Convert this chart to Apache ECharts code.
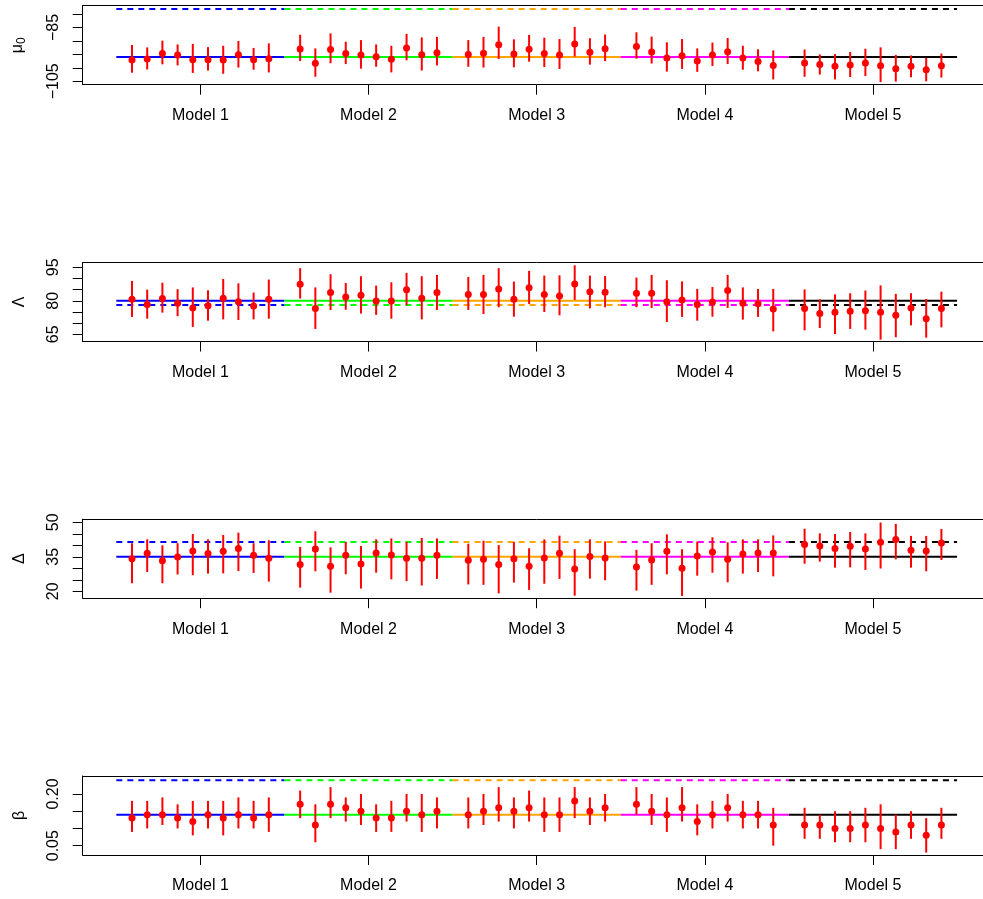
<!DOCTYPE html>
<html><head><meta charset="utf-8">
<script src="https://cdn.jsdelivr.net/npm/echarts@6/dist/echarts.min.js"></script>
<style>html,body{margin:0;padding:0;background:#fff;overflow:hidden;width:983px;height:899px}#c{width:1000px;height:899px}</style>
</head><body><div id="c"></div>
<script>
// ---------- data ----------
const modelLabels = ['Model 1', 'Model 2', 'Model 3', 'Model 4', 'Model 5'];
const modelColors = ['#0000ff', '#00ff00', '#ffa500', '#ff00ff', '#000000'];
const perModel = 10;

// mu0
const mu0Est = [-97.1,-96.7,-94.7,-95.2,-97.0,-97.0,-97.1,-95.1,-97.0,-96.6,
  -93.0,-98.3,-93.2,-94.7,-95.2,-95.9,-96.8,-92.6,-95.1,-94.4,
  -95.0,-94.6,-91.4,-94.9,-93.1,-94.7,-95.2,-91.1,-94.2,-92.9,
  -92.1,-94.1,-96.3,-95.5,-97.5,-95.2,-94.0,-96.3,-97.6,-99.1,
  -98.2,-98.8,-99.4,-98.9,-98.2,-99.2,-100.3,-99.4,-100.7,-99.2];
const mu0Lo = [-101.8,-100.6,-98.7,-99.1,-101.9,-101.0,-102.2,-99.9,-100.7,-101.7,
  -97.5,-103.3,-98.3,-98.6,-100.3,-99.6,-101.7,-97.2,-101.0,-99.1,
  -99.6,-99.9,-96.7,-99.8,-97.7,-99.7,-100.4,-95.8,-98.8,-97.5,
  -96.6,-98.4,-101.4,-100.4,-101.5,-99.3,-98.6,-100.7,-101.3,-104.3,
  -103.3,-102.5,-104.3,-103.4,-103.0,-105.3,-105.1,-103.5,-105.0,-103.6];
const mu0Hi = [-91.5,-92.4,-89.9,-91.3,-91.1,-92.3,-91.8,-90.0,-92.6,-90.9,
  -87.7,-92.8,-87.2,-90.3,-89.7,-91.3,-91.8,-87.4,-88.7,-88.5,
  -89.7,-88.5,-84.7,-89.4,-87.8,-88.8,-89.3,-84.8,-89.0,-87.6,
  -86.8,-88.4,-90.5,-89.3,-92.8,-90.6,-88.9,-91.8,-93.1,-93.5,
  -93.2,-95.0,-94.9,-94.1,-92.9,-92.4,-95.2,-95.4,-96.3,-94.7];
const mu0True = [-96, -96, -96, -96, -96];
const mu0Dash = [-78.1, -78.1, -78.1, -78.1, -78.1];

// Lambda
const lamEst = [80.7,78.4,81.0,78.9,76.8,77.8,81.1,79.6,77.7,80.7,
  87.4,76.5,83.7,81.7,82.5,79.9,79.9,85.0,81.1,83.7,
  82.8,82.8,85.3,80.7,85.9,82.8,82.2,87.5,84.0,83.8,
  83.4,83.4,79.6,80.4,78.3,79.5,84.6,78.9,78.7,76.3,
  76.6,74.3,74.9,75.3,75.5,74.9,73.5,76.8,72.0,76.5];
const lamLo = [72.8,72.0,74.7,73.1,68.3,71.1,71.7,71.4,71.7,72.0,
  81.0,67.4,75.9,76.0,74.3,73.7,72.0,78.0,71.7,75.9,
  75.9,74.1,77.1,72.9,78.6,75.0,73.5,80.4,76.6,77.1,
  77.1,76.8,70.5,72.8,71.1,72.9,76.8,71.6,72.8,66.3,
  66.8,67.8,65.1,67.4,67.1,62.6,63.7,69.0,63.5,68.1];
const lamHi = [88.9,85.0,88.1,85.2,86.0,84.7,89.8,87.8,83.7,89.5,
  94.6,86.0,91.9,88.0,91.0,86.8,88.3,92.5,91.0,91.6,
  90.7,91.6,94.6,88.6,93.4,91.3,91.4,95.9,91.3,91.1,
  90.4,91.6,89.2,88.7,85.3,86.2,91.6,86.0,85.3,85.3,
  85.1,80.7,82.9,83.4,84.6,86.9,83.1,83.4,80.8,84.1];
const lamTrue = [80, 80, 80, 80, 80];
const lamDash = [78.1, 78.1, 78.1, 78.1, 78.1];

// Delta
const delEst = [34.1,36.5,33.3,34.9,37.5,36.4,37.4,38.6,35.7,34.4,
  31.7,38.4,30.9,35.7,31.9,36.7,35.8,34.4,34.4,35.7,
  33.5,33.9,31.6,34.1,30.9,34.5,36.5,29.7,35.1,34.5,
  30.6,33.6,37.4,30.0,35.4,37.1,33.9,36.2,36.7,36.7,
  40.4,39.7,38.6,39.6,38.4,41.3,42.5,37.8,37.5,41.0];
const delLo = [23.5,28.4,23.5,27.3,27.0,27.7,27.8,28.8,28.0,24.2,
  21.6,28.7,19.4,27.4,21.2,28.1,25.2,24.4,22.5,25.4,
  23.0,22.8,19.1,23.8,20.6,23.3,25.4,18.1,25.5,24.8,
  20.3,22.8,27.4,18.0,26.8,28.1,23.9,27.7,28.4,26.5,
  32.0,32.9,30.3,30.4,29.3,29.9,33.9,30.3,28.7,33.6];
const delHi = [40.9,42.6,40.0,40.9,44.9,42.6,44.5,45.5,40.9,42.2,
  39.3,46.1,39.1,41.5,39.7,42.6,43.0,41.5,43.2,43.0,
  40.7,42.0,40.1,41.5,38.7,42.6,44.2,38.3,42.6,41.7,
  38.0,40.9,44.8,38.3,41.6,43.5,41.3,42.6,42.6,44.3,
  47.2,45.2,44.9,45.8,45.2,49.9,49.3,44.1,44.1,47.1];
const delTrue = [35, 35, 35, 35, 35];
const delDash = [41.4, 41.4, 41.4, 41.4, 41.4];

// beta
const betEst = [0.13,0.14,0.14,0.13,0.12,0.14,0.13,0.14,0.13,0.14,
  0.17,0.11,0.17,0.16,0.15,0.13,0.13,0.15,0.14,0.15,
  0.14,0.15,0.16,0.15,0.16,0.14,0.14,0.18,0.15,0.16,
  0.17,0.15,0.14,0.16,0.12,0.14,0.16,0.14,0.14,0.11,
  0.11,0.11,0.10,0.10,0.11,0.10,0.09,0.11,0.08,0.11];
const betLo = [0.09,0.10,0.11,0.10,0.08,0.10,0.08,0.10,0.10,0.09,
  0.13,0.06,0.13,0.12,0.11,0.09,0.09,0.12,0.09,0.10,
  0.10,0.11,0.12,0.10,0.12,0.09,0.09,0.13,0.11,0.12,
  0.14,0.11,0.09,0.12,0.08,0.10,0.12,0.10,0.10,0.05,
  0.07,0.07,0.06,0.06,0.06,0.04,0.04,0.07,0.03,0.07];
const betHi = [0.18,0.18,0.19,0.17,0.18,0.18,0.18,0.19,0.18,0.19,
  0.21,0.17,0.22,0.19,0.20,0.17,0.18,0.20,0.20,0.19,
  0.19,0.20,0.22,0.19,0.21,0.19,0.19,0.22,0.19,0.20,
  0.22,0.20,0.19,0.22,0.17,0.18,0.20,0.18,0.18,0.16,
  0.16,0.14,0.15,0.15,0.16,0.17,0.14,0.15,0.13,0.16];
const betTrue = [0.14, 0.14, 0.14, 0.14, 0.14];
const betDash = [0.24, 0.24, 0.24, 0.24, 0.24];

const yTicks = [
  [-105, -100, -95, -90, -85, -80],
  [65, 70, 75, 80, 85, 90, 95],
  [20, 25, 30, 35, 40, 45, 50],
  [0.05, 0.10, 0.15, 0.20]
];
const yLabels = [[-105, -85], [65, 80, 95], [20, 35, 50], [0.05, 0.20]];
const yNames = ['{m|μ}{s|0}', 'Λ', 'Δ', 'β'];

// ---------- layout ----------
const panelTops = [5.7, 262.5, 519.2, 776];
const panelH = 79;
const yRanges = [[-106.26, -76.92], [61.78, 97.15], [17.0, 51.35], [0.023, 0.2522]];
const FONT = '"Liberation Sans", Arial, Helvetica, sans-serif';

const panelData = [
  [mu0Est, mu0Lo, mu0Hi, mu0True, mu0Dash],
  [lamEst, lamLo, lamHi, lamTrue, lamDash],
  [delEst, delLo, delHi, delTrue, delDash],
  [betEst, betLo, betHi, betTrue, betDash]
];

const xPos = i => {
  const m = Math.floor(i / perModel) + 1;
  const j = i % perModel;
  return m + (j - (perModel - 1) / 2) * 0.0904;
};

const grids = [], xAxes = [], yAxes = [], series = [];
panelData.forEach((pd, p) => {
  const [est, lo, hi, tru, dash] = pd;
  grids.push({left: 82.7, width: 908, top: panelTops[p], height: panelH, show: false});
  xAxes.push({type: 'value', gridIndex: p, min: 0.3, max: 5.7, position: 'bottom',
    splitLine: {show: false},
    axisLine: {show: true, lineStyle: {color: '#000', width: 1}},
    axisTick: {show: true, length: 10, lineStyle: {color: '#000', width: 1}, customValues: [1, 2, 3, 4, 5]},
    axisLabel: {show: true, customValues: [1, 2, 3, 4, 5], margin: 23,
      formatter: v => modelLabels[Math.round(v) - 1] || '',
      color: '#000', fontSize: 16, fontFamily: FONT}
  });
  // top edge of the plot box
  xAxes.push({type: 'value', gridIndex: p, min: 0.3, max: 5.7, position: 'top',
    splitLine: {show: false}, axisTick: {show: false}, axisLabel: {show: false},
    axisLine: {show: true, lineStyle: {color: '#000', width: 1}}
  });
  const yl = yLabels[p];
  yAxes.push({type: 'value', gridIndex: p, min: yRanges[p][0], max: yRanges[p][1],
    splitLine: {show: false},
    axisLine: {show: true, lineStyle: {color: '#000', width: 1}},
    axisTick: {show: true, length: 10, lineStyle: {color: '#000', width: 1}, customValues: yTicks[p]},
    axisLabel: {show: true, customValues: yl, rotate: 90, margin: 21,
      formatter: v => (p === 3 ? v.toFixed(2) : String(v)).replace('-', '\u2212'),
      color: '#000', fontSize: 16, fontFamily: FONT},
    name: yNames[p], nameLocation: 'middle', nameRotate: 90, nameGap: 55,
    nameTextStyle: {color: '#000', fontSize: 16, fontFamily: FONT,
      rich: {m: {fontSize: 16, fontFamily: FONT, color: '#000'},
             s: {fontSize: 12, fontFamily: FONT, color: '#000', verticalAlign: 'bottom', padding: [8, 0, 0, 0]}}}
  });
  const xi = 2 * p;
  // model reference lines
  for (let m = 0; m < 5; m++) {
    series.push({type: 'line', xAxisIndex: xi, yAxisIndex: p, silent: true, symbol: 'none',
      data: [[m + 0.5, tru[m]], [m + 1.5, tru[m]]],
      lineStyle: {color: modelColors[m], width: 2, type: 'solid'}, z: 2});
    series.push({type: 'line', xAxisIndex: xi, yAxisIndex: p, silent: true, symbol: 'none',
      data: [[m + 0.5, dash[m]], [m + 1.5, dash[m]]],
      lineStyle: {color: modelColors[m], width: 2, type: [6, 5]}, z: 2});
  }
  // error bars
  series.push({type: 'custom', xAxisIndex: xi, yAxisIndex: p, silent: true, z: 3,
    data: est.map((v, i) => [xPos(i), lo[i], hi[i]]),
    encode: {x: 0, y: [1, 2]},
    renderItem: (params, api) => {
      const a = api.coord([api.value(0), api.value(1)]);
      const b = api.coord([api.value(0), api.value(2)]);
      return {type: 'line', shape: {x1: a[0], y1: a[1], x2: b[0], y2: b[1]},
        style: {stroke: '#ff0000', lineWidth: 2}};
    }
  });
  // estimates
  series.push({type: 'scatter', xAxisIndex: xi, yAxisIndex: p, silent: true, z: 4,
    symbol: 'circle', symbolSize: 7,
    itemStyle: {color: '#ff0000', opacity: 1},
    data: est.map((v, i) => [xPos(i), v])});
});

const chart = echarts.init(document.getElementById('c'), null, {renderer: 'canvas'});
chart.setOption({animation: false, backgroundColor: '#fff',
  grid: grids, xAxis: xAxes, yAxis: yAxes, series: series});
</script>
</body></html>
